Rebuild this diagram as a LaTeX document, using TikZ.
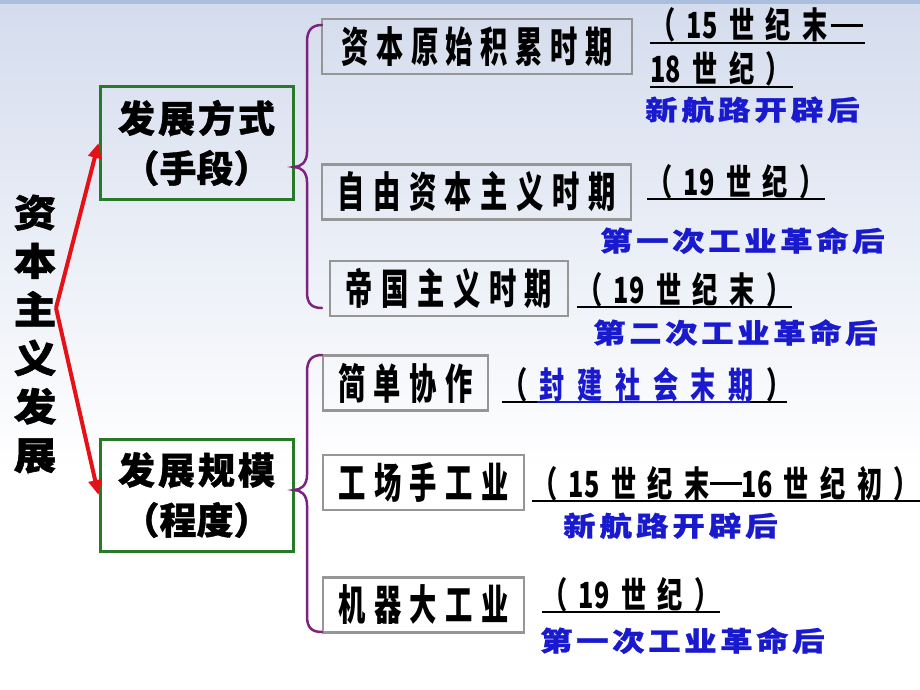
\documentclass[tikz,border=0pt]{standalone}
\usepackage{fontspec}
\usetikzlibrary{arrows.meta}
\newfontfamily\bigfont[FakeStretch=1.12,FakeBold=1.5]{Noto Sans CJK SC}
\newfontfamily\titlefont[FakeBold=1]{Noto Sans CJK SC}
\newfontfamily\boxfont[FakeStretch=0.65]{Noto Sans CJK SC}
\newfontfamily\notefont[FakeStretch=0.7]{Noto Sans CJK SC}
\newfontfamily\bluefont[FakeStretch=1.2,FakeBold=1]{Noto Sans CJK SC}
\definecolor{bgtop}{RGB}{212,220,237}
\definecolor{bgline}{RGB}{170,190,222}
\definecolor{grnline}{RGB}{40,122,40}
\definecolor{boxgray}{RGB}{150,150,150}
\definecolor{arrred}{RGB}{228,18,22}
\definecolor{bracepur}{RGB}{125,35,125}
\definecolor{nblue}{RGB}{25,25,205}
% letter-spaced text: \spaced{gap}{tokens}
\newlength\spacedgap
\def\spacedmark{\spacedend}
\newcommand\spaced[2]{\setlength\spacedgap{#1}\spacedfirst#2\spacedend}
\def\spacedfirst#1{#1\spacedrest}
\def\spacedrest#1{\def\spacedtmp{#1}\ifx\spacedtmp\spacedmark\else\hspace{\spacedgap}#1\expandafter\spacedrest\fi}
\newcommand\longdash{\rule[0.34em]{32pt}{2.6pt}}
\begin{document}
\begin{tikzpicture}[x=1pt,y=-1pt,
    gbox/.style={draw=grnline,line width=3pt,minimum width=193pt,minimum height=112pt,inner sep=0pt,align=center,font=\titlefont\bfseries\fontsize{37}{50}\selectfont},
    pbox/.style={draw=boxgray,line width=2.5pt,minimum height=55pt,inner sep=0pt,font=\boxfont\bfseries\fontsize{42}{46}\selectfont},
    datenote/.style={anchor=base west,inner sep=0pt,font=\notefont\bfseries\fontsize{36}{40}\selectfont},
    causenote/.style={anchor=base west,inner sep=0pt,text=nblue,font=\bluefont\bfseries\fontsize{27}{30}\selectfont},
    uline/.style={line width=2pt},
    redarrow/.style={draw=arrred,line width=4pt,-{Triangle[length=15pt,width=13pt]}},
    curly/.style={draw=bracepur,line width=2.5pt,line cap=round}]
    % background
    \fill[white] (0,0) rectangle (920,690);
    \shade[top color=bgtop,bottom color=white] (0,0) rectangle (920,470);
    \fill[bgline] (0,0) rectangle (920,4);
    \useasboundingbox (0,0) rectangle (920,690);

    \node[font=\bigfont\bfseries\fontsize{38}{48.5}\selectfont,align=center,inner sep=0pt] (title) at (35,334) {资\\本\\主\\义\\发\\展};
    \coordinate (split) at (56,308);

    \node[gbox] (way) at (196.5,143) {\spaced{3pt}{发展方式}\\（手段）};
    \node[gbox] (scale) at (196.5,495) {\spaced{3pt}{发展规模}\\（程度）};
    \draw[redarrow] (split) -- (way.west);
    \draw[redarrow] (split) -- (scale.west);

    % stages
    \node[pbox,minimum width=310pt] (accum) at (477,46.5) {\spaced{7.5pt}{资本原始积累时期}};
    \node[pbox,minimum width=309pt] (free) at (476.5,192) {\spaced{8.5pt}{自由资本主义时期}};
    \node[pbox,minimum width=238pt] (imper) at (449,288.5) {\spaced{8.5pt}{帝国主义时期}};
    \draw[curly] (322,25) .. controls (312,25) and (307,30) .. (307,42) -- (307,152)
        .. controls (307,162) and (301,167) .. (294,167)
        .. controls (301,167) and (307,172) .. (307,182) -- (307,292)
        .. controls (307,304) and (312,308) .. (322,308);

    % scale
    \node[pbox,minimum width=165pt] (coop) at (405.5,383) {\spaced{8.5pt}{简单协作}};
    \node[pbox,minimum width=201pt] (manuf) at (423.5,482.5) {\spaced{8.5pt}{工场手工业}};
    \node[pbox,minimum width=201pt] (machine) at (423.5,605) {\spaced{8.5pt}{机器大工业}};
    \draw[curly] (322,355) .. controls (312,355) and (307,360) .. (307,372) -- (307,475)
        .. controls (307,485) and (301,490) .. (294,490)
        .. controls (301,490) and (307,495) .. (307,505) -- (307,616)
        .. controls (307,628) and (312,632) .. (322,632);

    % dates and causes
    \node[datenote] (accum1) at (650,39) {\spaced{11.5pt}{（{15}世纪{末\hspace{3pt}\longdash}}};
    \draw[uline] ([yshift=-4pt]accum1.base west) -- ++(215,0);
    \node[datenote] (accum2) at (650,83) {\spaced{11.5pt}{{18}世纪）}};
    \draw[uline] ([yshift=-4pt]accum2.base west) -- ++(143,0);
    \node[causenote] (accum3) at (645,120) {\spaced{4pt}{新航路开辟后}};

    \node[datenote] (free1) at (647,195) {\spaced{11.5pt}{（{19}世纪）}};
    \draw[uline] ([yshift=-4pt]free1.base west) -- ++(178,0);
    \node[causenote] (free2) at (600,251) {\spaced{3.6pt}{第一次工业革命后}};

    \node[datenote] (imper1) at (577,303) {\spaced{11.5pt}{（{19}世纪末）}};
    \draw[uline] ([yshift=-4pt]imper1.base west) -- ++(215,0);
    \node[causenote] (imper2) at (593,343) {\spaced{3.6pt}{第二次工业革命后}};

    \node[datenote] (coop1) at (502,398) {\spaced{12.5pt}{（{\textcolor{nblue}{封}}{\textcolor{nblue}{建}}{\textcolor{nblue}{社}}{\textcolor{nblue}{会}}{\textcolor{nblue}{末}}{\textcolor{nblue}{期}}）}};
    \draw[uline] ([yshift=-4pt]coop1.base west) -- ++(35,0) coordinate (coopa);
    \draw[uline,nblue] (coopa) -- ++(213,0) coordinate (coopb);
    \draw[uline] (coopb) -- ++(37,0);

    \node[datenote] (manuf1) at (532,497) {\spaced{11.5pt}{（{15}世纪{末\longdash16}世纪初）}};
    \draw[uline] ([yshift=-4pt]manuf1.base west) -- ++(388,0);
    \node[causenote] (manuf2) at (563,536) {\spaced{4pt}{新航路开辟后}};

    \node[datenote] (machine1) at (542,608) {\spaced{11.5pt}{（{19}世纪）}};
    \draw[uline] ([yshift=-4pt]machine1.base west) -- ++(178,0);
    \node[causenote] (machine2) at (540,651) {\spaced{3.6pt}{第一次工业革命后}};
\end{tikzpicture}
\end{document}
